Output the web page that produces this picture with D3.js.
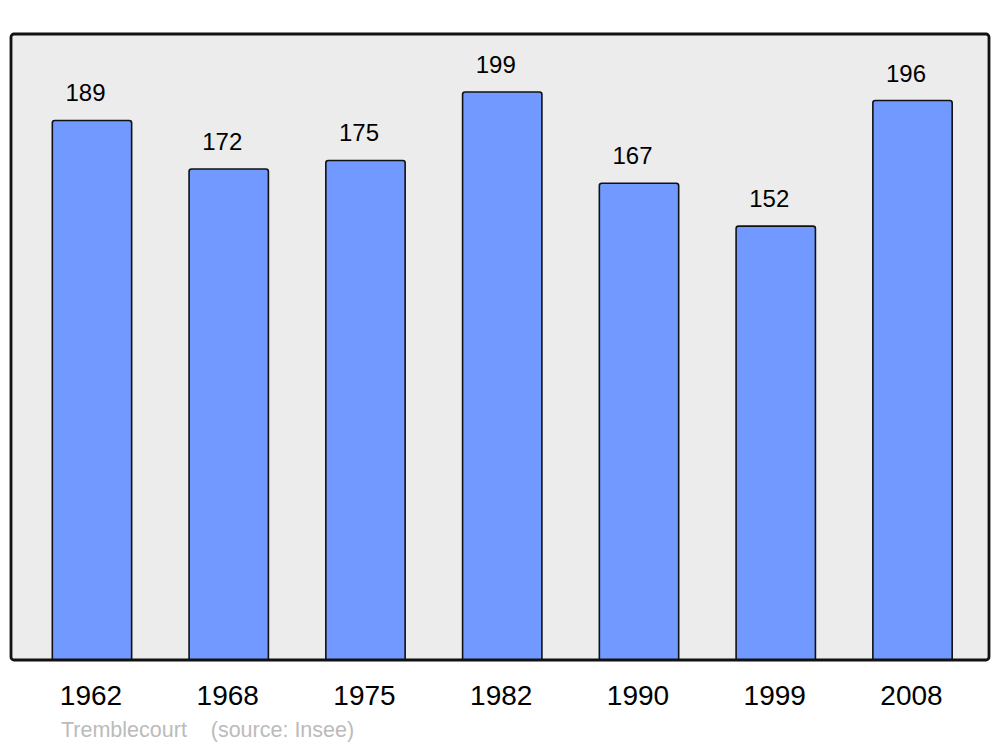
<!DOCTYPE html>
<html>
<head>
<meta charset="utf-8">
<script src="https://cdn.jsdelivr.net/npm/d3@7"></script>
<style>
body{margin:0;background:#fff;}
svg{display:block;font-family:"Liberation Sans", Arial, sans-serif;}
</style>
</head>
<body>
<div id="chart"></div>
<script>
var years = ['1962', '1968', '1975', '1982', '1990', '1999', '2008'];
var population = [189, 172, 175, 199, 167, 152, 196];
var commune = 'Tremblecourt';
var source = '(source: Insee)';

var width = 1000, height = 747;
var frame = {left: 11, top: 34, right: 989, bottom: 660};

var svg = d3.select('#chart')
    .append('svg')
    .attr('width', width)
    .attr('height', height);

svg.append('rect')
    .attr('x', frame.left)
    .attr('y', frame.top)
    .attr('width', frame.right - frame.left)
    .attr('height', frame.bottom - frame.top)
    .attr('rx', 3)
    .attr('fill', '#ececec');

var x = d3.scaleBand()
    .domain(years)
    .range([23.6, 980.9])
    .paddingInner(0.42)
    .paddingOuter(0.21);

var y = d3.scaleLinear()
    .domain([0, 219.3])
    .range([frame.bottom, frame.top]);

var bars = svg.append('g');
years.forEach(function(yr, i){
    var bx = x(yr), bw = x.bandwidth();
    var top = y(population[i]);
    // bar with slightly rounded top corners, bottom sits on the frame
    var r = 2.5;
    var p = 'M' + bx + ',' + frame.bottom +
        'V' + (top + r) +
        'Q' + bx + ',' + top + ' ' + (bx + r) + ',' + top +
        'H' + (bx + bw - r) +
        'Q' + (bx + bw) + ',' + top + ' ' + (bx + bw) + ',' + (top + r) +
        'V' + frame.bottom;
    bars.append('path')
        .attr('d', p)
        .attr('fill', '#7299ff')
        .attr('stroke', '#111')
        .attr('stroke-width', 1.6);
    bars.append('text')
        .attr('x', bx + bw/2 - 6.5)
        .attr('y', top - 19)
        .attr('text-anchor', 'middle')
        .attr('font-size', 24)
        .attr('fill', '#000')
        .text(population[i]);
    svg.append('text')
        .attr('x', bx + bw/2 - 1)
        .attr('y', 705)
        .attr('text-anchor', 'middle')
        .attr('font-size', 28)
        .attr('fill', '#000')
        .text(yr);
});

// frame outline on top of the bars
svg.append('rect')
    .attr('x', frame.left)
    .attr('y', frame.top)
    .attr('width', frame.right - frame.left)
    .attr('height', frame.bottom - frame.top)
    .attr('rx', 3)
    .attr('fill', 'none')
    .attr('stroke', '#111')
    .attr('stroke-width', 2.8);

svg.append('text')
    .attr('x', 61)
    .attr('y', 737)
    .attr('font-size', 21.5)
    .attr('fill', '#bbb')
    .attr('xml:space', 'preserve')
    .style('white-space', 'pre')
    .text(commune + '    ' + source);
</script>
</body>
</html>
